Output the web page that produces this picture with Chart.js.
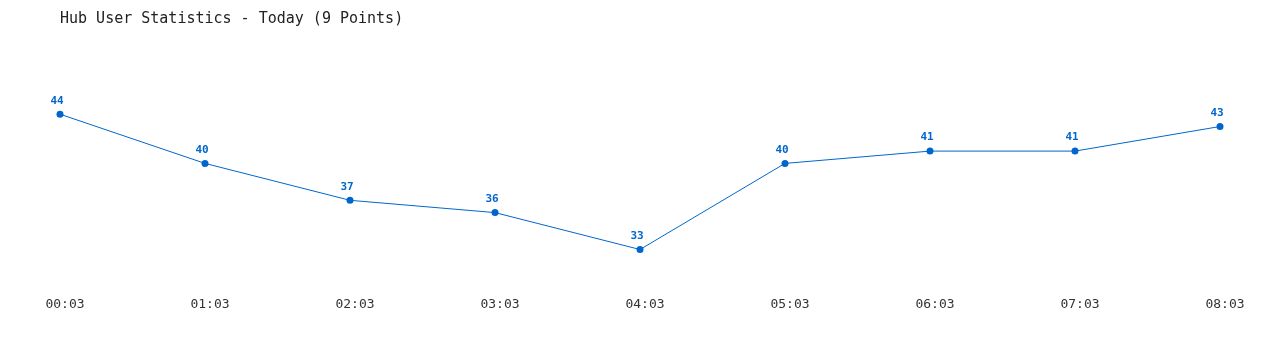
<!DOCTYPE html>
<html>
<head>
<meta charset="utf-8">
<script src="https://cdn.jsdelivr.net/npm/chart.js@4"></script>
<style>
    html, body { margin: 0; padding: 0; background: #ffffff; }
    #wrap { width: 1280px; height: 350px; }
</style>
</head>
<body>
<div id="wrap"><canvas id="hubChart" width="1280" height="350"></canvas></div>
<script>
// Data
const timeLabels = ["00:03", "01:03", "02:03", "03:03", "04:03", "05:03", "06:03", "07:03", "08:03"];
const userCounts = [44, 40, 37, 36, 33, 40, 41, 41, 43];

const lineColor = "#0066cc";
const monoFont = "'DejaVu Sans Mono', 'Liberation Mono', monospace";

// Small plugin to write the value above each point
const valueLabels = {
    id: "valueLabels",
    afterDatasetsDraw(chart) {
        const ctx = chart.ctx;
        const meta = chart.getDatasetMeta(0);
        ctx.save();
        ctx.font = "bold 11px " + monoFont;
        ctx.fillStyle = lineColor;
        ctx.textAlign = "center";
        ctx.textBaseline = "bottom";
        meta.data.forEach((pt, i) => {
            ctx.fillText(String(userCounts[i]), pt.x - 3, pt.y - 8);
        });
        ctx.restore();
    },
};

function plotHubUsers() {
    const data = {
        labels: timeLabels,
        datasets: [
            {
                label: "Users",
                data: userCounts,
                borderColor: lineColor,
                backgroundColor: lineColor,
                borderWidth: 1,
                pointRadius: 3.5,
                pointBackgroundColor: lineColor,
                pointBorderWidth: 0,
                tension: 0,
            },
        ],
    };
    const config = {
        type: "line",
        data: data,
        plugins: [valueLabels],
        options: {
            responsive: false,
            animation: false,
            layout: {
                padding: { left: 60, right: 60, top: 0, bottom: 28 },
            },
            plugins: {
                legend: { display: false },
                tooltip: { enabled: false },
                title: {
                    display: true,
                    text: "Hub User Statistics - Today (9 Points)",
                    align: "start",
                    color: "#222222",
                    font: { family: monoFont, size: 15, weight: "normal" },
                    padding: { top: 10, bottom: 37 },
                },
            },
            scales: {
                x: {
                    offset: false,
                    grid: { display: false, drawTicks: false },
                    border: { display: false },
                    ticks: {
                        color: "#333333",
                        font: { family: monoFont, size: 13 },
                        padding: 10,
                        labelOffset: 5,
                        maxRotation: 0,
                    },
                },
                y: {
                    display: false,
                    min: 30,
                    max: 48,
                },
            },
        },
    };
    const ctx = document.getElementById("hubChart").getContext("2d");
    new Chart(ctx, config);
}

plotHubUsers();
</script>
</body>
</html>
